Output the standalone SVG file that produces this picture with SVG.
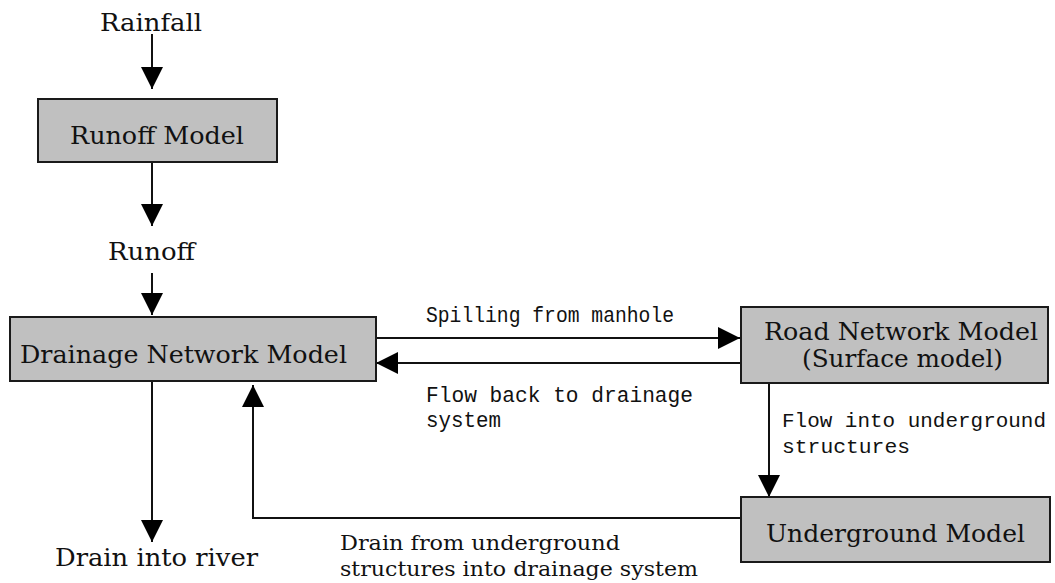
<svg xmlns="http://www.w3.org/2000/svg" width="1055" height="583" viewBox="0 0 1055 583">
<style>
.box{fill:#c0c0c0;stroke:#1a1a1a;stroke-width:2}
.t{font-family:"DejaVu Serif","Liberation Serif",serif;font-size:25px;fill:#111}
.s{font-family:"DejaVu Serif","Liberation Serif",serif;font-size:20px;fill:#111}
.m{font-family:"Liberation Mono","DejaVu Sans Mono",monospace;font-size:22px;fill:#111}
.m2{font-family:"Liberation Mono","DejaVu Sans Mono",monospace;font-size:21px;fill:#111}
.c{fill:none;stroke:#111;stroke-width:2}
</style>
<defs>
<marker id="ah" markerUnits="userSpaceOnUse" markerWidth="22" markerHeight="22" refX="20" refY="10" orient="auto" viewBox="0 0 20 20">
<path d="M0,0 L20,10 L0,20 z" fill="#000"/>
</marker>
</defs>
<rect width="1055" height="583" fill="#fff"/>
<g id="connectors">
<line class="c" x1="152" y1="34" x2="152" y2="89" marker-end="url(#ah)"/>
<line class="c" x1="152" y1="162" x2="152" y2="226" marker-end="url(#ah)"/>
<line class="c" x1="152" y1="273" x2="152" y2="315" marker-end="url(#ah)"/>
<line class="c" x1="376" y1="338" x2="740" y2="338" marker-end="url(#ah)"/>
<line class="c" x1="741" y1="363" x2="376" y2="363" marker-end="url(#ah)"/>
<line class="c" x1="152" y1="381" x2="152" y2="542" marker-end="url(#ah)"/>
<line class="c" x1="769" y1="384" x2="769" y2="497" marker-end="url(#ah)"/>
<polyline class="c" points="741,518 253,518 253,385" marker-end="url(#ah)"/>
<text class="m" x="426" y="322" textLength="248" lengthAdjust="spacingAndGlyphs">Spilling from manhole</text>
<text class="m" x="426" y="402" textLength="267" lengthAdjust="spacingAndGlyphs">Flow back to drainage</text>
<text class="m" x="426" y="427" textLength="75" lengthAdjust="spacingAndGlyphs">system</text>
<text class="m2" x="782" y="427" textLength="264" lengthAdjust="spacingAndGlyphs">Flow into underground</text>
<text class="m2" x="782" y="453" textLength="128" lengthAdjust="spacingAndGlyphs">structures</text>
<text class="s" x="340" y="550" textLength="280" lengthAdjust="spacingAndGlyphs">Drain from underground</text>
<text class="s" x="340" y="576" textLength="358" lengthAdjust="spacingAndGlyphs">structures into drainage system</text>
</g>
<g id="rainfall">
<text class="t" x="100" y="31" textLength="102" lengthAdjust="spacingAndGlyphs">Rainfall</text>
</g>
<g id="runoff-model">
<rect class="box" x="38" y="99" width="239" height="63"/>
<text class="t" x="70" y="144" textLength="174" lengthAdjust="spacingAndGlyphs">Runoff Model</text>
</g>
<g id="runoff">
<text class="t" x="108" y="260" textLength="87" lengthAdjust="spacingAndGlyphs">Runoff</text>
</g>
<g id="drainage-network-model">
<rect class="box" x="10" y="317" width="366" height="64"/>
<text class="t" x="20" y="363" textLength="327" lengthAdjust="spacingAndGlyphs">Drainage Network Model</text>
</g>
<g id="road-network-model">
<rect class="box" x="741" y="307" width="307" height="76"/>
<text class="t" x="764" y="340" textLength="274" lengthAdjust="spacingAndGlyphs">Road Network Model</text>
<text class="t" x="802" y="367" textLength="201" lengthAdjust="spacingAndGlyphs">(Surface model)</text>
</g>
<g id="underground-model">
<rect class="box" x="741" y="497" width="309" height="65"/>
<text class="t" x="766" y="542" textLength="259" lengthAdjust="spacingAndGlyphs">Underground Model</text>
</g>
<g id="drain-into-river">
<text class="t" x="55" y="566" textLength="203" lengthAdjust="spacingAndGlyphs">Drain into river</text>
</g>
</svg>
